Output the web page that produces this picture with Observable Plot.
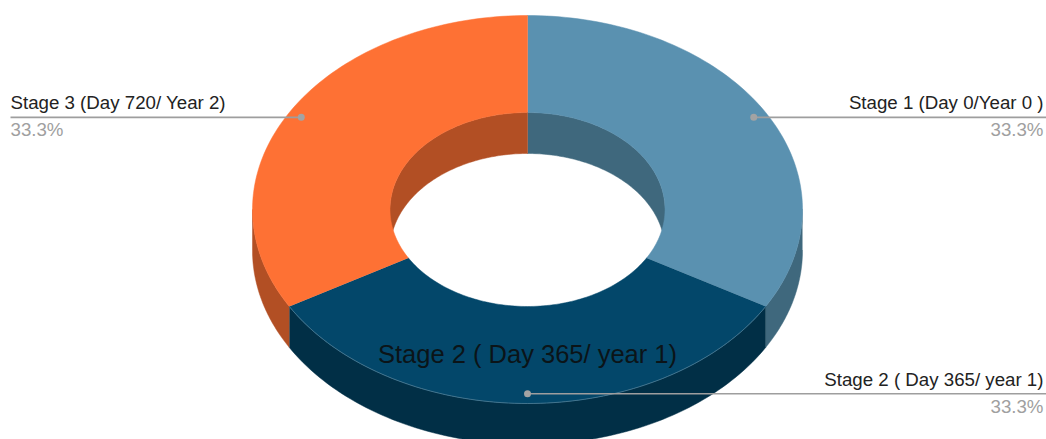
<!DOCTYPE html>
<html>
<head>
<meta charset="utf-8">
<script src="https://cdn.jsdelivr.net/npm/d3@7"></script>
<script src="https://cdn.jsdelivr.net/npm/@observablehq/plot@0.6"></script>
<style>
  html, body { margin: 0; padding: 0; background: #fff; }
  #chart svg { display: block; overflow: visible; }
</style>
</head>
<body>
<div id="chart"></div>
<script>
// ---- data ----
const stages = ["Stage 1 (Day 0/Year 0 )", "Stage 2 ( Day 365/ year 1)", "Stage 3 (Day 720/ Year 2)"];
const values = [1, 1, 1];
const topColors = ["#5a91b0", "#03476a", "#fe7134"];
const sideColors = ["#3f687d", "#012f46", "#b24f24"];
const centerLabelIndex = 1;

// ---- layout of the 3D donut (pixels) ----
const W = 1046, H = 439;
const cx = 527, cy = 209, rx = 275, ry = 194, hole = 0.5, depth = 41;
const N = 90;
const rad = d => d * Math.PI / 180;
const P = (r, a, dy = 0) => ({x: cx + r * rx * Math.sin(rad(a)), y: cy - r * ry * Math.cos(rad(a)) + dy});
const arcPts = (r, a0, a1, dy = 0) => d3.range(N + 1).map(i => P(r, a0 + (a1 - a0) * i / N, dy));

const total = d3.sum(values);
let acc = 0;
const slices = values.map((v, i) => {
  const a0 = acc / total * 360; acc += v; const a1 = acc / total * 360;
  return {i, name: stages[i], a0, a1, mid: (a0 + a1) / 2, pct: (v / total * 100).toFixed(1) + "%"};
});

const clip = (a0, a1, lo, hi) => { const s = Math.max(a0, lo), e = Math.min(a1, hi); return s < e ? [s, e] : null; };

const marks = [];
// outer side walls (front half: 90..270)
for (const s of slices) {
  const c = clip(s.a0, s.a1, 90, 270);
  if (!c) continue;
  const poly = [...arcPts(1, c[0], c[1]), ...arcPts(1, c[1], c[0], depth)];
  marks.push(Plot.line(poly, {x: "x", y: "y", fill: sideColors[s.i], stroke: sideColors[s.i], strokeWidth: 0.5}));
}
// inner walls (back half: -90..90)
for (const s of slices) {
  for (const [lo, hi] of [[-90, 90], [270, 450]]) {
    const c = clip(s.a0, s.a1, lo, hi);
    if (!c) continue;
    const poly = [...arcPts(hole, c[0], c[1]), ...arcPts(hole, c[1], c[0], depth)];
    marks.push(Plot.line(poly, {x: "x", y: "y", fill: sideColors[s.i], stroke: sideColors[s.i], strokeWidth: 0.5}));
  }
}
// top faces
for (const s of slices) {
  const poly = [...arcPts(1, s.a0, s.a1), ...arcPts(hole, s.a1, s.a0)];
  marks.push(Plot.line(poly, {x: "x", y: "y", fill: topColors[s.i], stroke: topColors[s.i], strokeWidth: 0.5}));
}
// subtle light rim along the front outer edge
marks.push(Plot.line(arcPts(1, 120, 240), {x: "x", y: "y", stroke: "#4f7d96", strokeWidth: 0.8}));

// leader lines and labels
const leaders = slices.map(s => {
  const p = P(0.95, s.mid);
  const right = Math.sin(rad(s.mid)) > -1e-9;
  return {...s, x1: p.x, y1: p.y, x2: right ? W : 10, tx: right ? W - 3 : 10, anchor: right ? "end" : "start"};
});
marks.push(Plot.link(leaders, {x1: "x1", y1: "y1", x2: "x2", y2: "y1", stroke: "#9e9e9e", strokeWidth: 1.6}));
marks.push(Plot.dot(leaders, {x: "x1", y: "y1", r: 3.5, fill: "#a3a3a3", stroke: null}));
for (const side of ["start", "end"]) {
  const L = leaders.filter(d => d.anchor === side);
  marks.push(Plot.text(L, {x: "tx", y: d => d.y1 - 8, text: "name", textAnchor: side, lineAnchor: "bottom", fontSize: 18.7, fill: "#222"}));
  marks.push(Plot.text(L, {x: "tx", y: d => d.y1 + 19, text: "pct", textAnchor: side, lineAnchor: "bottom", fontSize: 18.7, fill: "#a0a0a0"}));
}
// label inside the front slice
const cs = slices[centerLabelIndex];
const cp = P(0.75, cs.mid);
marks.push(Plot.text([{x: cp.x, y: cp.y, t: cs.name}], {x: "x", y: "y", text: "t", fontSize: 25.5, fill: "#0b1418", lineAnchor: "middle"}));

const chart = Plot.plot({
  width: W, height: H,
  margin: 0,
  x: {domain: [0, W], range: [0, W], axis: null},
  y: {domain: [0, H], range: [0, H], axis: null},
  style: {fontFamily: "'Liberation Sans', Arial, sans-serif", background: "#fff"},
  marks
});
document.getElementById("chart").appendChild(chart);
</script>
</body>
</html>
